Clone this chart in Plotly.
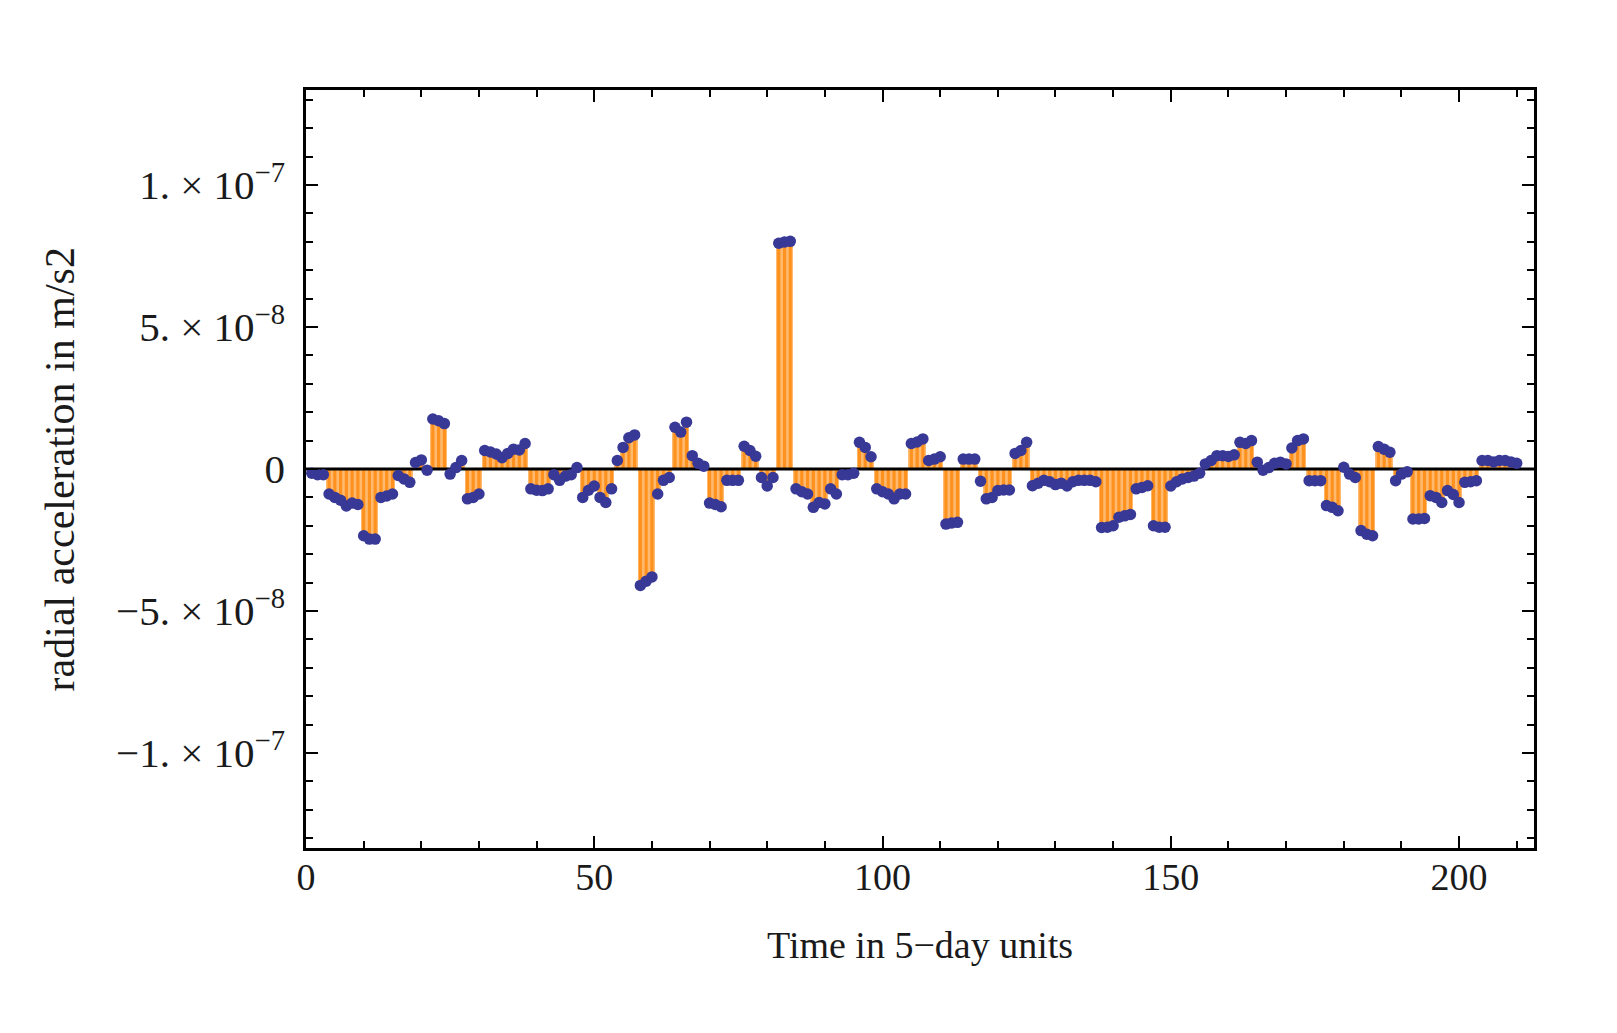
import plotly.graph_objects as go

# Time in 5-day units
time_units = list(range(1, 211))
# radial acceleration in units of 1e-8 m/s^2
accel_e8 = [
    -0.15, -0.2, -0.2, -0.88, -1.0, -1.1, -1.3, -1.2, -1.25, -2.35,
    -2.47, -2.47, -1.0, -0.95, -0.88, -0.23, -0.35, -0.47, 0.23, 0.32,
    -0.04, 1.76, 1.7, 1.6, -0.18, 0.05, 0.3, -1.05, -1.0, -0.88,
    0.65, 0.6, 0.53, 0.4, 0.55, 0.7, 0.67, 0.9, -0.7, -0.75,
    -0.76, -0.7, -0.2, -0.4, -0.25, -0.2, 0.05, -1.0, -0.75, -0.6,
    -1.0, -1.18, -0.7, 0.3, 0.76, 1.1, 1.2, -4.1, -3.95, -3.8,
    -0.88, -0.4, -0.3, 1.47, 1.3, 1.65, 0.47, 0.2, 0.1, -1.2,
    -1.25, -1.33, -0.4, -0.4, -0.4, 0.8, 0.65, 0.45, -0.3, -0.6,
    -0.3, 7.95, 8.0, 8.02, -0.7, -0.8, -0.88, -1.35, -1.18, -1.23,
    -0.7, -0.88, -0.2, -0.2, -0.15, 0.94, 0.76, 0.43, -0.7, -0.8,
    -0.88, -1.05, -0.88, -0.88, 0.9, 0.95, 1.06, 0.3, 0.35, 0.43,
    -1.94, -1.9, -1.88, 0.35, 0.35, 0.35, -0.43, -1.05, -1.0, -0.76,
    -0.74, -0.74, 0.55, 0.65, 0.94, -0.59, -0.5, -0.4, -0.45, -0.55,
    -0.5, -0.6, -0.45, -0.4, -0.4, -0.4, -0.45, -2.06, -2.05, -2.0,
    -1.7, -1.65, -1.6, -0.7, -0.65, -0.59, -2.0, -2.05, -2.05, -0.6,
    -0.45, -0.35, -0.3, -0.25, -0.15, 0.18, 0.3, 0.47, 0.47, 0.44,
    0.5, 0.94, 0.9, 1.0, 0.24, -0.04, 0.05, 0.2, 0.24, 0.18,
    0.74, 1.0, 1.06, -0.41, -0.41, -0.41, -1.29, -1.35, -1.47, 0.06,
    -0.18, -0.3, -2.17, -2.3, -2.35, 0.79, 0.7, 0.59, -0.41, -0.18,
    -0.1, -1.76, -1.76, -1.74, -0.94, -1.0, -1.18, -0.76, -0.9, -1.18,
    -0.47, -0.45, -0.41, 0.3, 0.3, 0.25, 0.3, 0.3, 0.25, 0.2,
]
accel = [v * 1e-8 for v in accel_e8]

x_range = [0, 213]
y_range = [-1.335e-7, 1.335e-7]
y_tickvals = [-1e-7, -5e-8, 0, 5e-8, 1e-7]
y_ticktext = ["−1. × 10<sup>−7</sup>", "−5. × 10<sup>−8</sup>", "0",
              "5. × 10<sup>−8</sup>", "1. × 10<sup>−7</sup>"]
x_tickvals = [0, 50, 100, 150, 200]
x_ticktext = ["0", "50", "100", "150", "200"]

FONT = "Liberation Serif"
DOT = "rgb(56,56,150)"

fig = go.Figure()

# light filling between stems
fig.add_trace(go.Bar(x=time_units, y=accel, width=1.0,
                     marker=dict(color="rgb(255,186,112)", line=dict(width=0)),
                     hoverinfo="skip"))

# stems
sx, sy = [], []
for t, v in zip(time_units, accel):
    sx += [t, t, None]
    sy += [0, v, None]
fig.add_trace(go.Scatter(x=sx, y=sy, mode="lines",
                         line=dict(color="rgb(255,146,30)", width=3.2),
                         hoverinfo="skip"))

# axis line at zero
fig.add_trace(go.Scatter(x=x_range, y=[0, 0], mode="lines",
                         line=dict(color="black", width=3), hoverinfo="skip"))

# points
fig.add_trace(go.Scatter(x=time_units, y=accel, mode="markers",
                         marker=dict(color=DOT, size=11.5, line=dict(width=0))))

fig.update_layout(
    width=1617, height=1033,
    margin=dict(l=306, r=83, t=90, b=185),
    plot_bgcolor="white", paper_bgcolor="white",
    showlegend=False, bargap=0,
    font=dict(family=FONT, size=38, color="#1a1a1a"),
)

fig.update_xaxes(
    range=x_range, tickvals=x_tickvals, ticktext=x_ticktext,
    showgrid=False, zeroline=False,
    showline=True, linecolor="black", linewidth=2.5, mirror="allticks",
    ticks="inside", ticklen=12, tickwidth=2, tickcolor="black",
    minor=dict(dtick=10, tick0=0, ticks="inside", ticklen=7, tickwidth=2,
               tickcolor="black", showgrid=False),
    tickfont=dict(family=FONT, size=38),
    ticklabelstandoff=-6,
)
fig.update_yaxes(
    range=y_range, tickvals=y_tickvals, ticktext=y_ticktext,
    showgrid=False, zeroline=False,
    showline=True, linecolor="black", linewidth=2.5, mirror="allticks",
    ticks="inside", ticklen=12, tickwidth=2, tickcolor="black",
    minor=dict(dtick=1e-8, tick0=0, ticks="inside", ticklen=7, tickwidth=2,
               tickcolor="black", showgrid=False),
    tickfont=dict(family=FONT, size=41),
    ticklabelstandoff=10,
)

fig.add_annotation(text="Time in 5−day units", xref="paper", yref="paper",
                   x=0.5, y=-0.098, xanchor="center", yanchor="top",
                   showarrow=False, font=dict(family=FONT, size=38))
fig.add_annotation(text="radial acceleration in m/s2", xref="paper", yref="paper",
                   x=-0.2, y=0.5, xanchor="center", yanchor="middle",
                   textangle=-90, showarrow=False, font=dict(family=FONT, size=42))

fig.write_html("out.html")
